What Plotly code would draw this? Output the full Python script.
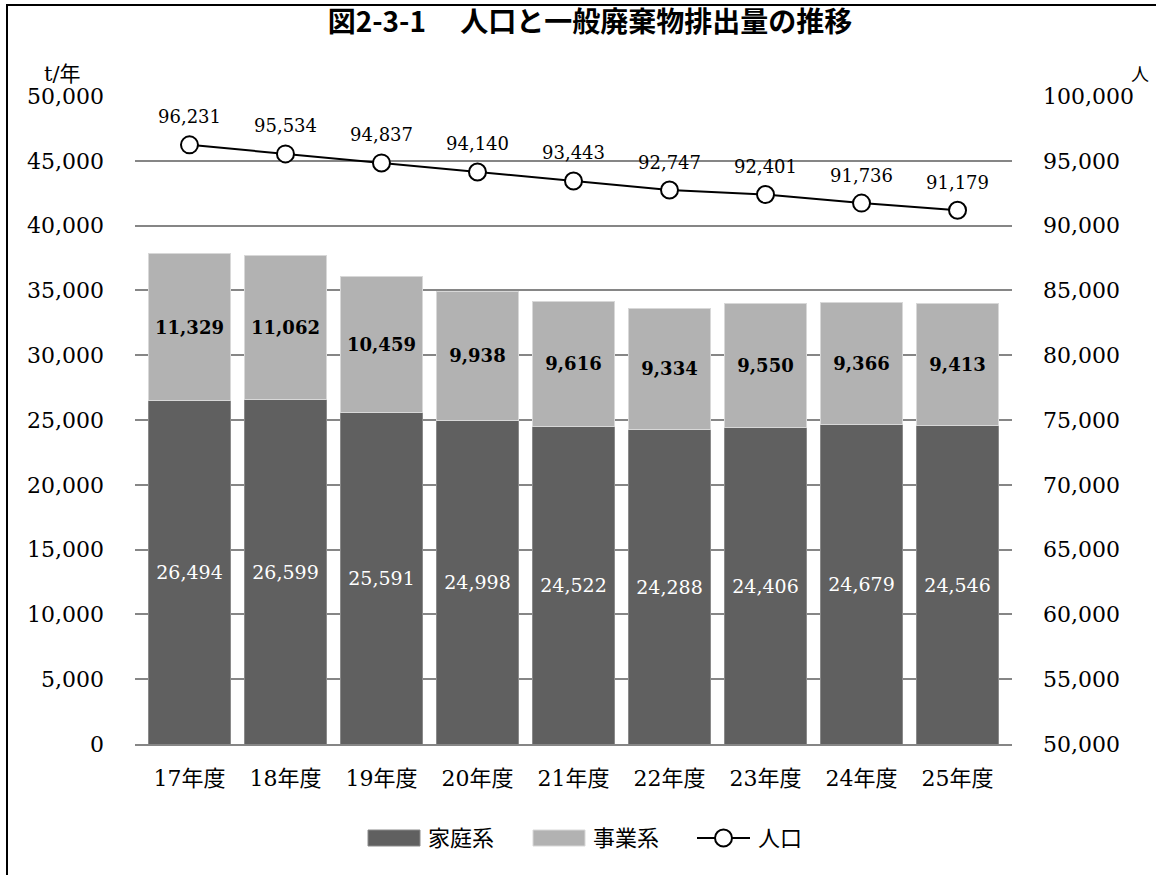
import plotly.graph_objects as go

# 年度別データ
years = ["17年度", "18年度", "19年度", "20年度", "21年度", "22年度", "23年度", "24年度", "25年度"]
household = [26494, 26599, 25591, 24998, 24522, 24288, 24406, 24679, 24546]   # 家庭系 (t/年)
business = [11329, 11062, 10459, 9938, 9616, 9334, 9550, 9366, 9413]          # 事業系 (t/年)
population = [96231, 95534, 94837, 94140, 93443, 92747, 92401, 91736, 91179]  # 人口 (人)

series_names = ["家庭系", "事業系", "人口"]
left_ticks = list(range(0, 50001, 5000))
right_ticks = list(range(50000, 100001, 5000))

COL_HOUSE = "#606060"
COL_BIZ = "#b2b2b2"

W, H = 1156, 875
ML, MR, MT, MB = 135, 144, 96, 131
PW = W - ML - MR
PH = H - MT - MB

SERIF = "Century Schoolbook, DejaVu Serif, Noto Sans CJK JP, serif"
GOTHIC = "Noto Sans CJK JP, sans-serif"


def px_x(px):
    return (px - ML) / PW


def px_y(py):
    return (H - MB - py) / PH


fig = go.Figure()

fig.add_trace(go.Bar(
    x=years, y=household, name=series_names[0],
    marker=dict(color=COL_HOUSE, line=dict(color="#8a8a8a", width=1)),
    text=household, texttemplate="%{y:,}", textposition="inside",
    insidetextanchor="middle",
    textfont=dict(family=SERIF, size=19, color="white"),
    yaxis="y",
))
fig.add_trace(go.Bar(
    x=years, y=business, name=series_names[1],
    marker=dict(color=COL_BIZ, line=dict(color="#d8d8d8", width=1)),
    text=business, texttemplate="<b>%{y:,}</b>", textposition="inside",
    insidetextanchor="middle",
    textfont=dict(family=SERIF, size=18, color="black"),
    yaxis="y",
))
fig.add_trace(go.Scatter(
    x=years, y=population, name=series_names[2],
    mode="lines+markers",
    line=dict(color="black", width=2),
    marker=dict(symbol="circle", size=17, color="white", line=dict(color="black", width=2)),
    yaxis="y2", cliponaxis=False,
))

# 人口の値ラベル（マーカーの上）
annotations = [
    dict(x=yr, y=p, xref="x", yref="y2", text=f"{p:,}", showarrow=False,
         yshift=28, xanchor="center", yanchor="middle",
         font=dict(family=SERIF, size=18, color="black"))
    for yr, p in zip(years, population)
]

# 軸の単位
annotations += [
    dict(text="t/年", x=px_x(62), y=px_y(74), xref="paper", yref="paper",
         showarrow=False, xanchor="center", yanchor="middle",
         font=dict(family=SERIF, size=21, color="black")),
    dict(text="人", x=px_x(1140), y=px_y(75), xref="paper", yref="paper",
         showarrow=False, xanchor="center", yanchor="middle",
         font=dict(family=SERIF, size=18, color="black")),
]

# 凡例（横長の見本）
legend_y = px_y(838)
leg_h = 16 / PH
shapes = [
    dict(type="rect", xref="paper", yref="paper",
         x0=px_x(368), x1=px_x(420), y0=legend_y - leg_h / 2, y1=legend_y + leg_h / 2,
         fillcolor=COL_HOUSE, line=dict(color="#8a8a8a", width=1)),
    dict(type="rect", xref="paper", yref="paper",
         x0=px_x(533), x1=px_x(585), y0=legend_y - leg_h / 2, y1=legend_y + leg_h / 2,
         fillcolor=COL_BIZ, line=dict(color="#d8d8d8", width=1)),
    dict(type="line", xref="paper", yref="paper",
         x0=px_x(697), x1=px_x(750), y0=legend_y, y1=legend_y,
         line=dict(color="black", width=2)),
    dict(type="circle", xref="paper", yref="paper",
         x0=px_x(715), x1=px_x(732), y0=legend_y - 8.5 / PH, y1=legend_y + 8.5 / PH,
         fillcolor="white", line=dict(color="black", width=2)),
    # 外枠
    dict(type="line", xref="paper", yref="paper",
         x0=px_x(6), x1=px_x(W + 5), y0=px_y(5), y1=px_y(5),
         line=dict(color="black", width=2)),
    dict(type="line", xref="paper", yref="paper",
         x0=px_x(7), x1=px_x(7), y0=px_y(5), y1=px_y(H + 5),
         line=dict(color="black", width=2)),
]
for name, xpx in zip(series_names, [426, 591, 756]):
    annotations.append(dict(
        text=name, x=px_x(xpx), y=legend_y, xref="paper", yref="paper",
        showarrow=False, xanchor="left", yanchor="middle",
        font=dict(family=SERIF, size=22, color="black")))

fig.update_layout(
    width=W, height=H,
    margin=dict(l=ML, r=MR, t=MT, b=MB),
    paper_bgcolor="white", plot_bgcolor="white",
    barmode="stack", bargap=0.145,
    showlegend=False,
    title=dict(
        text="<b>図2-3-1　 人口と一般廃棄物排出量の推移</b>",
        x=590 / W, xanchor="center",
        y=1 - 22 / H, yanchor="middle", yref="container",
        font=dict(family=GOTHIC, size=28, color="black"),
    ),
    xaxis=dict(
        showline=True, linecolor="#868686", linewidth=2,
        ticks="", tickfont=dict(family=SERIF, size=22, color="black"),
        ticklabelstandoff=14,
    ),
    yaxis=dict(
        range=[0, 50000], tickvals=left_ticks, tickformat=",",
        showgrid=True, gridcolor="#868686", gridwidth=2,
        zeroline=False, showline=False, ticks="",
        tickfont=dict(family=SERIF, size=22, color="black"),
        ticklabelstandoff=30,
    ),
    yaxis2=dict(
        range=[50000, 100000], tickvals=right_ticks, tickformat=",",
        overlaying="y", side="right", showgrid=False, zeroline=False,
        showline=False, ticks="",
        tickfont=dict(family=SERIF, size=22, color="black"),
        ticklabelstandoff=30,
    ),
    annotations=annotations,
    shapes=shapes,
)

fig.write_html("out.html")
